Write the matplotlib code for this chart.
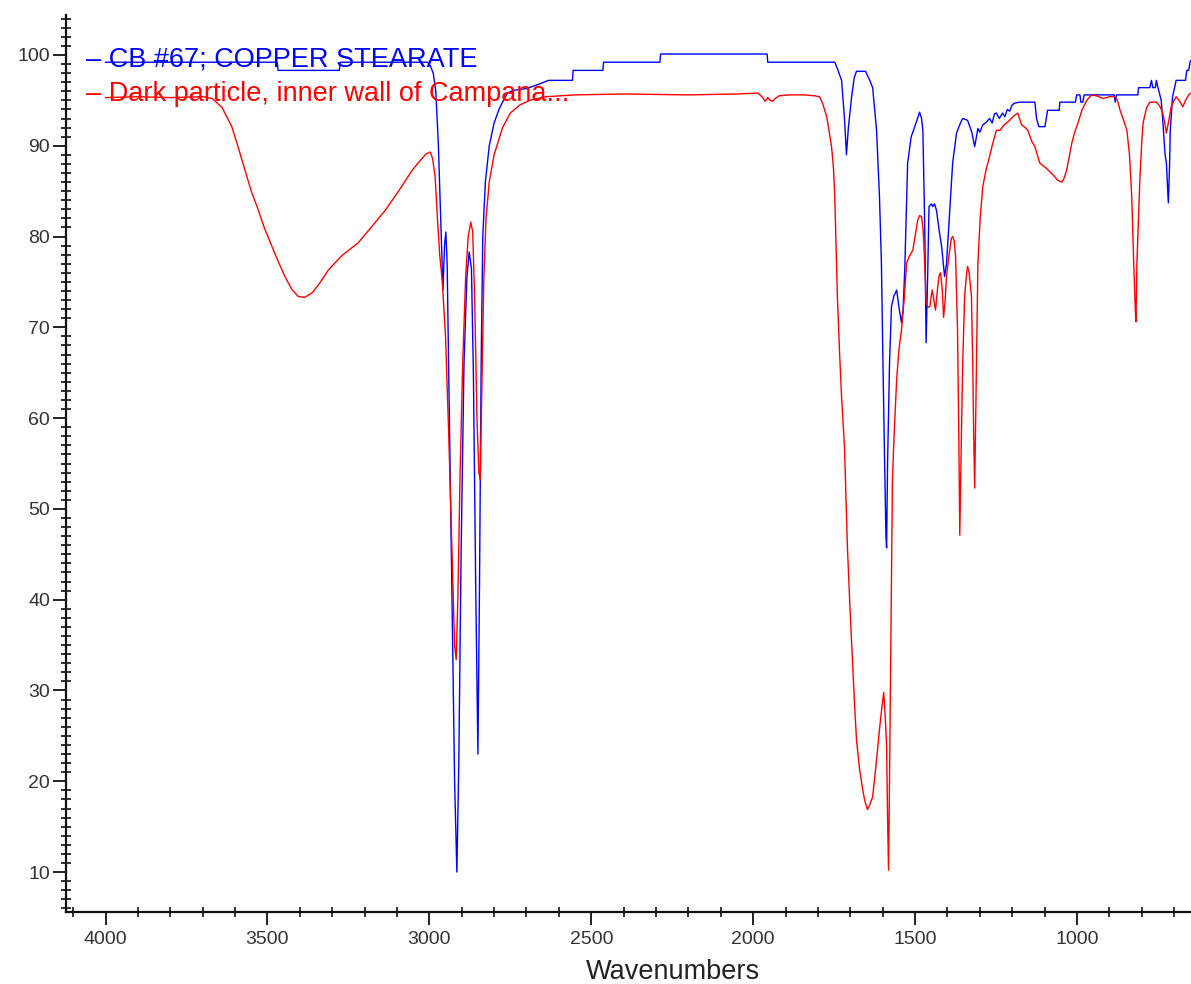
import matplotlib
matplotlib.use("Agg")
import matplotlib.pyplot as plt
from matplotlib.ticker import MultipleLocator, FixedLocator
import numpy as np

plt.rcParams['font.family'] = ['Liberation Sans', 'DejaVu Sans']

series_names = ["CB #67; COPPER STEARATE", "Dark particle, inner wall of Campana..."]
series_colors = ["#0000ff", "#ff0000"]

blue_wn = [4000, 3470, 3467, 3278, 3275, 3005, 2997, 2988, 2980, 2972, 2965, 2958, 2953, 2949, 2945,
           2938, 2930, 2922, 2915, 2909, 2902, 2893, 2884, 2877, 2870, 2864, 2857, 2850, 2845, 2840,
           2835, 2827, 2815, 2800, 2785, 2774, 2759, 2740, 2700, 2660, 2632, 2558, 2556, 2464, 2462,
           2288, 2286, 1957, 1955, 1748, 1740, 1727, 1718, 1712, 1706, 1696, 1688, 1681, 1653, 1640,
           1631, 1619, 1610, 1604, 1600, 1595, 1590, 1588, 1585, 1579, 1573, 1565, 1557, 1549, 1542,
           1537, 1532, 1527, 1523, 1512, 1501, 1486, 1480, 1476, 1470, 1466, 1461, 1457, 1450, 1445,
           1440, 1434, 1425, 1418, 1409, 1403, 1399, 1390, 1384, 1372, 1360, 1353, 1338, 1325, 1316,
           1306, 1300, 1291, 1280, 1270, 1262, 1255, 1249, 1240, 1230, 1223, 1215, 1208, 1200, 1192,
           1177, 1130, 1125, 1118, 1099, 1095, 1091, 1055, 1053, 1005, 1001, 991, 988, 982, 978,
           885, 882, 878, 812, 810, 775, 770, 766, 758, 755, 750, 740, 736, 728, 724, 718, 714, 712,
           705, 698, 694, 665, 661, 655, 651, 648]
blue_t = [99.2, 99.2, 98.3, 98.3, 99.2, 99.2, 98.8, 98.0, 96.0, 90.0, 82.0, 74.1, 79.0, 80.5, 77.0,
          60.0, 40.0, 20.0, 10.0, 22.0, 45.0, 66.0, 75.5, 78.3, 76.5, 65.0, 42.0, 23.0, 42.0, 66.0,
          80.0, 86.0, 90.0, 92.5, 94.0, 94.8, 95.8, 96.1, 96.3, 96.8, 97.2, 97.2, 98.3, 98.3, 99.2,
          99.2, 100.1, 100.1, 99.2, 99.2, 98.5, 97.2, 93.0, 89.0, 92.0, 95.4, 97.5, 98.2, 98.2, 97.2,
          96.4, 91.7, 84.4, 77.1, 67.8, 57.0, 47.0, 45.7, 55.0, 66.0, 72.3, 73.5, 74.1, 72.0, 70.5,
          72.0, 76.3, 83.0, 88.1, 91.0, 92.1, 93.7, 93.0, 91.7, 80.7, 68.3, 76.0, 83.3, 83.6, 83.3,
          83.6, 82.9, 80.5, 78.9, 75.6, 77.0, 79.3, 84.5, 88.1, 91.4, 92.5, 93.0, 92.8, 91.5, 89.9,
          91.9, 91.5, 92.3, 92.6, 93.0, 92.5, 93.5, 93.6, 93.0, 93.6, 93.2, 94.0, 93.8, 94.5, 94.7,
          94.8, 94.8, 93.0, 92.1, 92.1, 93.0, 93.9, 93.9, 94.8, 94.8, 95.6, 95.6, 94.8, 94.8, 95.6,
          95.6, 94.8, 95.6, 95.6, 96.4, 96.4, 97.2, 96.4, 96.4, 97.2, 96.4, 95.0, 93.2, 89.0, 88.1,
          83.7, 88.0, 91.7, 95.4, 96.5, 97.2, 97.2, 98.3, 98.3, 99.2, 99.4]

red_wn = [4000, 3900, 3800, 3700, 3670, 3640, 3610, 3590, 3569, 3550, 3528, 3510, 3486, 3466, 3446,
          3425, 3405, 3385, 3362, 3340, 3312, 3270, 3220, 3180, 3136, 3095, 3053, 3025, 3010, 2997,
          2990, 2982, 2975, 2968, 2960, 2950, 2940, 2930, 2922, 2917, 2912, 2905, 2897, 2888, 2880,
          2872, 2866, 2860, 2853, 2847, 2843, 2838, 2832, 2825, 2815, 2800, 2774, 2750, 2720, 2690,
          2640, 2550, 2400, 2200, 2050, 1985, 1970, 1964, 1958, 1955, 1948, 1940, 1932, 1920, 1888,
          1842, 1810, 1795, 1785, 1773, 1765, 1758, 1752, 1748, 1744, 1740, 1733, 1727, 1718, 1709,
          1701, 1693, 1687, 1681, 1672, 1662, 1655, 1647, 1640, 1631, 1620, 1610, 1603, 1597, 1592,
          1588, 1585, 1582, 1579, 1576, 1573, 1570, 1565, 1557, 1550, 1542, 1534, 1526, 1518, 1507,
          1498, 1492, 1486, 1480, 1476, 1473, 1468, 1466, 1460, 1454, 1450, 1447, 1442, 1437, 1430,
          1425, 1421, 1416, 1412, 1407, 1403, 1395, 1388, 1384, 1379, 1375, 1369, 1365, 1362, 1358,
          1353, 1347, 1342, 1338, 1333, 1326, 1322, 1319, 1316, 1312, 1306, 1299, 1291, 1280, 1270,
          1260, 1249, 1238, 1225, 1208, 1195, 1183, 1171, 1160, 1152, 1140, 1130, 1115, 1105, 1094,
          1080, 1069, 1060, 1047, 1040, 1032, 1024, 1016, 1007, 997, 985, 970, 955, 940, 920, 900,
          883, 875, 867, 856, 846, 838, 831, 825, 820, 818, 815, 810, 806, 800, 796, 785, 775, 755,
          745, 736, 729, 724, 718, 709, 700, 694, 685, 673, 665, 655, 648]
red_t = [95.3, 95.4, 95.3, 95.4, 95.2, 94.2, 92.1, 89.8, 87.3, 85.0, 82.9, 81.0, 78.9, 77.2, 75.6,
         74.2, 73.4, 73.3, 73.8, 74.8, 76.3, 77.9, 79.3, 81.0, 82.9, 85.0, 87.3, 88.5, 89.1, 89.3,
         88.6, 86.5, 82.0, 78.0, 75.0, 69.0, 58.0, 45.0, 35.0, 33.4, 40.0, 54.0, 66.0, 75.5, 80.0,
         81.6, 80.5, 73.0, 60.0, 54.0, 53.2, 63.0, 75.0, 82.0, 86.0, 89.0, 92.0, 93.6, 94.5, 95.0,
         95.4, 95.6, 95.7, 95.6, 95.7, 95.8, 95.3, 94.9, 95.1, 95.3, 95.0, 94.9, 95.2, 95.5, 95.6,
         95.6, 95.5, 95.4, 94.6, 93.2, 91.5, 89.9, 87.5, 84.4, 79.0, 73.4, 67.0, 62.3, 56.8, 45.8,
         39.0, 33.0, 28.5, 24.6, 21.5, 19.1, 17.8, 16.9, 17.4, 18.3, 22.0, 25.7, 28.0, 29.8, 27.0,
         23.8, 16.0, 10.2, 20.0, 31.2, 42.2, 53.2, 58.0, 64.2, 67.5, 69.7, 73.0, 77.1, 77.8, 78.5,
         80.5, 81.8, 82.3, 82.2, 81.0, 79.3, 75.0, 72.7, 72.2, 72.3, 73.5, 74.1, 73.0, 71.9, 74.5,
         75.8, 76.0, 74.0, 71.1, 73.0, 75.6, 78.0, 79.8, 80.0, 79.5, 77.8, 69.7, 58.0, 47.1, 56.0,
         66.0, 73.4, 75.5, 76.7, 76.0, 73.4, 66.0, 58.0, 52.3, 62.0, 77.1, 82.0, 85.5, 87.5, 88.8,
         90.3, 91.7, 91.7, 92.3, 92.8, 93.3, 93.6, 92.3, 92.0, 91.7, 90.5, 89.9, 88.1, 87.8, 87.5,
         87.0, 86.6, 86.2, 86.0, 86.4, 87.3, 88.8, 90.3, 91.5, 92.5, 93.9, 95.0, 95.6, 95.5, 95.2, 95.4,
         95.4, 95.0, 93.9, 92.8, 91.7, 89.0, 84.4, 77.1, 72.0, 70.6, 77.1, 82.0, 86.2, 90.5, 92.5,
         94.2, 94.8, 94.8, 94.4, 93.7, 92.5, 91.4, 92.5, 94.3, 95.0, 95.4, 95.0, 94.3, 95.0, 95.6, 95.8]

x_major = [4000, 3500, 3000, 2500, 2000, 1500, 1000]
y_major = [10, 20, 30, 40, 50, 60, 70, 80, 90, 100]
x_label = "Wavenumbers"

W, H = 1191, 984
fig = plt.figure(figsize=(W / 100, H / 100), dpi=100)
ax = fig.add_axes([66 / W, (H - 912) / H, (W - 66) / W, (912 - 15) / H])

ax.plot(blue_wn, blue_t, color=series_colors[0], lw=1.0, zorder=3)
ax.plot(red_wn, red_t, color=series_colors[1], lw=1.0, zorder=3)

ax.set_xlim(4122, 648)
ax.set_ylim(5.6, 104.4)

for s in ['top', 'right']:
    ax.spines[s].set_visible(False)
for s in ['left', 'bottom']:
    ax.spines[s].set_linewidth(1.6)
    ax.spines[s].set_color('#111111')

ax.xaxis.set_major_locator(FixedLocator(x_major))
ax.xaxis.set_minor_locator(MultipleLocator(100))
ax.yaxis.set_major_locator(FixedLocator(y_major))
ax.yaxis.set_minor_locator(MultipleLocator(1))

ax.tick_params(axis='both', which='major', direction='out', length=9.5, width=1.3,
               color='#111111', labelsize=14, labelcolor='#333333')
ax.tick_params(axis='x', which='major', pad=4)
ax.tick_params(axis='y', which='major', pad=2)
ax.tick_params(axis='both', which='minor', direction='inout', length=7, width=1.2, color='#111111')

fig.text(673 / W, (H - 979) / H, x_label, ha='center', va='baseline', fontsize=19.5, color='#222222')

fig.text(86 / W, (H - 66) / H, "– " + series_names[0], ha='left', va='baseline',
         fontsize=19.5, color=series_colors[0])
fig.text(86 / W, (H - 101) / H, "– " + series_names[1], ha='left', va='baseline',
         fontsize=19.5, color=series_colors[1])

fig.savefig("out.png", dpi=100)
